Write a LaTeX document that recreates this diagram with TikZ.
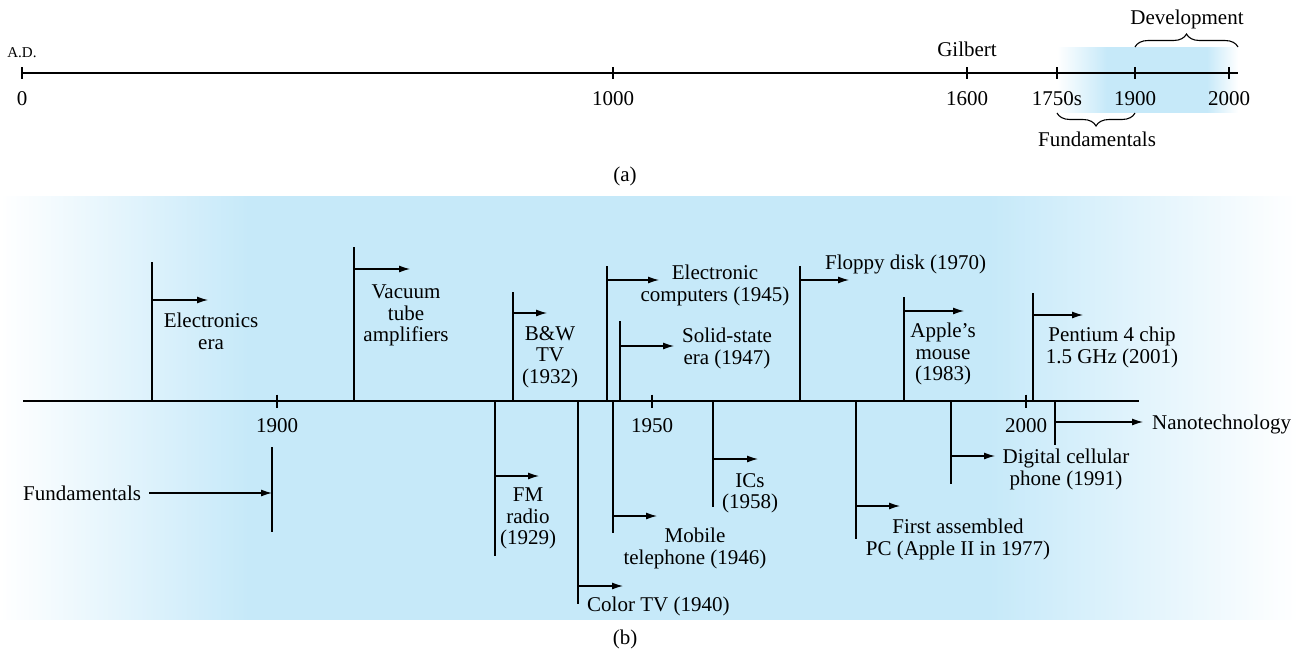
\documentclass[tikz,border=0pt]{standalone}
\usepackage{fontspec}
\setmainfont{Liberation Serif}
\usetikzlibrary{arrows.meta,positioning,decorations.pathreplacing}
\definecolor{skyfill}{RGB}{198,233,249}
\pgfdeclarehorizontalshading{bandA}{100bp}{color(0bp)=(white); color(25bp)=(white);
  color(38.8bp)=(skyfill); color(66.4bp)=(skyfill); color(75bp)=(white); color(100bp)=(white)}
\pgfdeclarehorizontalshading{bandB}{100bp}{color(0bp)=(white); color(25bp)=(white);
  color(34.6bp)=(skyfill); color(63.1bp)=(skyfill); color(75bp)=(white); color(100bp)=(white)}
\newcommand{\tlsize}{\fontsize{21}{21.5}\selectfont}
\newcommand{\adsize}{\fontsize{15}{16}\selectfont}
\tikzset{
  axisline/.style={line width=1.2pt},
  stem/.style={line width=1.2pt},
  pointer/.style={line width=1.2pt,-{Latex[length=11pt,width=7pt]}},
  tickmark/.style={line width=1.2pt},
  lbl/.style={font=\tlsize,inner sep=0pt,align=center},
  yearlbl/.style={font=\tlsize,inner sep=0pt},
  curly/.style={line width=1.1pt,decorate,decoration={brace,amplitude=13pt}},
}

\begin{document}
\begin{tikzpicture}[x=1pt,y=-1pt]
\useasboundingbox (0,0) rectangle (1298,649);

% (a) shaded band
\shade[shading=bandA] (1057,47) rectangle (1238,112);

% (a) time line
\coordinate (aEnd) at (1238,73);
\foreach \yr/\x in {0/22,1000/613,1600/967,1750s/1057,1900/1135,2000/1229} {
  \coordinate (a\yr) at (\x,73);
  \draw[tickmark] ([yshift=6pt]a\yr) -- ([yshift=-6pt]a\yr);
  \node[yearlbl,below=18pt of a\yr] (la\yr) {\yr};
}
\draw[axisline] (a0) -- (aEnd);
\node[yearlbl,font=\adsize,above=15pt of a0] (ad) {A.D.};
\node[yearlbl,above=16pt of a1600] (gilbert) {Gilbert};

% braces
\coordinate (devL) at (1135,47);
\coordinate (devR) at (1238,47);
\draw[curly] (devL) -- (devR);
\node[yearlbl,anchor=north] (dev) at (1187,10) {Development};
\coordinate (fundL) at (1057,113);
\coordinate (fundR) at (1135,113);
\draw[curly] (fundR) -- (fundL);
\node[yearlbl,anchor=north] (fundA) at (1097,132) {Fundamentals};
\node[yearlbl,anchor=north] (capA) at (625,167) {(a)};

% (b) background
\shade[shading=bandB] (0,196) rectangle (1298,619);

% (b) time line
\coordinate (bStart) at (23,401);
\coordinate (bEnd) at (1139,401);
\draw[axisline] (bStart) -- (bEnd);
\foreach \yr/\x in {1900/277,1950/652,2000/1026} {
  \coordinate (b\yr) at (\x,401);
  \draw[tickmark] ([yshift=6.5pt]b\yr) -- ([yshift=-6.5pt]b\yr);
  \node[yearlbl,below=17pt of b\yr] (lb\yr) {\yr};
}

% events: name/x/end of stem/arrow height/arrow length
\foreach \n/\x/\e/\a/\l in {elec/152/262/300/56, vac/354/247/269/56,
    bw/513/292/313/34, comp/607/266/280/52, solid/620/321/346/54,
    floppy/800/266/280/49, mouse/904/297/311/60, pent/1033/293/315/50,
    fm/495/556/476/44, color/578/604/586/45, mobile/613/533/516/44,
    ics/713/507/459/45, pc/856/539/506/44, cell/951/484/456/44,
    nano/1055/445/422/88} {
  \coordinate (\n-base) at (\x,401);
  \coordinate (\n-end) at (\x,\e);
  \coordinate (\n-from) at (\x,\a);
  \coordinate (\n-tip) at (\x+\l,\a);
  \draw[stem] (\n-base) -- (\n-end);
  \draw[pointer] (\n-from) -- (\n-tip);
}

\node[lbl,anchor=north] (elecTxt) at (211,313) {Electronics\\era};
\node[lbl,anchor=north] (vacTxt) at (406,285) {Vacuum\\tube\\amplifiers};
\node[lbl,anchor=north] (bwTxt) at (550,326) {B\&W\\TV\\(1932)};
\node[lbl,anchor=north] (compTxt) at (715,265) {Electronic\\computers (1945)};
\node[lbl,anchor=north] (solidTxt) at (727,328) {Solid-state\\era (1947)};
\node[lbl,anchor=north west] (floppyTxt) at (825,255) {Floppy disk (1970)};
\node[lbl,anchor=north] (mouseTxt) at (943,323) {Apple’s\\mouse\\(1983)};
\node[lbl,anchor=north] (pentTxt) at (1112,327) {Pentium 4 chip\\1.5 GHz (2001)};
\node[lbl,anchor=north] (fmTxt) at (528,488) {FM\\radio\\(1929)};
\node[lbl,anchor=north west] (colorTxt) at (587,597) {Color TV (1940)};
\node[lbl,anchor=north] (mobileTxt) at (695,528) {Mobile\\telephone (1946)};
\node[lbl,anchor=north] (icsTxt) at (750,473) {ICs\\(1958)};
\node[lbl,anchor=north] (pcTxt) at (958,519) {First assembled\\PC (Apple II in 1977)};
\node[lbl,anchor=north] (cellTxt) at (1066,449) {Digital cellular\\phone (1991)};
\node[lbl,anchor=base west] (nanoTxt) at (1152,429) {Nanotechnology};

% fundamentals marker
\node[lbl,anchor=west] (fundTxt) at (23,493) {Fundamentals};
\coordinate (fund-top) at (272,447);
\coordinate (fund-bot) at (272,532);
\coordinate (fund-hit) at (272,493);
\draw[stem] (fund-top) -- (fund-bot);
\draw[pointer,shorten <=8pt] (fundTxt.east) -- (fund-hit);

\node[yearlbl,anchor=north] (capB) at (625,630) {(b)};
\end{tikzpicture}
\end{document}
